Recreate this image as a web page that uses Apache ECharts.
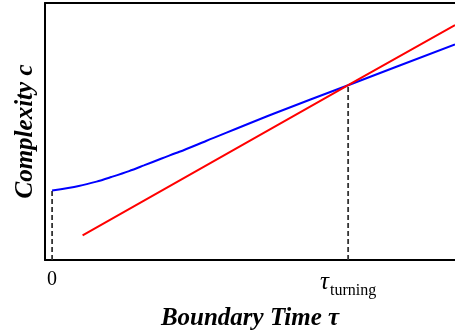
<!DOCTYPE html>
<html>
<head>
<meta charset="utf-8">
<script src="https://cdn.jsdelivr.net/npm/echarts@6/dist/echarts.min.js"></script>
<style>
  html, body { margin: 0; padding: 0; background: #fff; }
  #chart { width: 455px; height: 333px; }
</style>
</head>
<body>
<div id="chart"></div>
<script>
// Boundary time τ (τ_turning = 10) against complexity c
const tauTurning = 10;
const tickValues = [0, tauTurning];
const tickLabels = ['0', '{tau|τ}{sub|turning}'];

// blue: curved growth starting from the value at τ = 0
const blueTau = [0, 0.9, 1.5, 2.0, 2.6, 3.1, 3.7, 4.3, 5.2, 7.5, 10, 13.61];
const blueC   = [2.70, 2.88, 3.05, 3.23, 3.46, 3.68, 3.95, 4.21, 4.63, 5.70, 6.80, 8.39];

// red: straight line crossing the blue one at τ_turning
const redTau = [1.03, 10, 13.61];
const redC   = [0.96, 6.80, 9.14];

// heights where the dashed guides stop
const startC = 2.70;
const turnC = 6.80;

const pairs = (xs, ys) => xs.map((x, i) => [x, ys[i]]);

const serif = 'Liberation Serif, Times New Roman, serif';
const xMin = -0.24, xMax = 13.61;

const chart = echarts.init(document.getElementById('chart'), null, { renderer: 'canvas' });
chart.setOption({
  animation: false,
  grid: { left: 45, right: 0, top: 3, bottom: 73, containLabel: false, outerBoundsMode: 'none' },
  xAxis: [
    {
      type: 'value',
      min: xMin,
      max: xMax,
      position: 'bottom',
      axisLine: { show: true, onZero: false, lineStyle: { color: '#000', width: 2 } },
      axisTick: { show: false },
      splitLine: { show: false },
      axisLabel: {
        customValues: tickValues,
        margin: 10,
        color: '#000',
        fontFamily: serif,
        fontSize: 20,
        formatter: v => tickLabels[tickValues.indexOf(v)],
        rich: {
          tau: { fontFamily: serif, fontSize: 25, fontStyle: 'italic', color: '#000', verticalAlign: 'bottom', padding: [0, 1, 0, 0] },
          sub: { fontFamily: serif, fontSize: 16, color: '#000', verticalAlign: 'bottom', padding: [0, 0, -4, 0] }
        }
      },
      name: 'Boundary Time τ',
      nameLocation: 'middle',
      nameGap: 46,
      nameTextStyle: { fontFamily: serif, fontSize: 25, fontWeight: 'bold', fontStyle: 'italic', color: '#000' }
    },
    {
      type: 'value',
      min: xMin,
      max: xMax,
      position: 'top',
      axisLine: { show: true, onZero: false, lineStyle: { color: '#000', width: 2 } },
      axisTick: { show: false },
      axisLabel: { show: false },
      splitLine: { show: false }
    }
  ],
  yAxis: {
    type: 'value',
    min: 0,
    max: 10,
    axisLine: { show: true, onZero: false, lineStyle: { color: '#000', width: 2 } },
    axisTick: { show: false },
    axisLabel: { show: false },
    splitLine: { show: false },
    name: 'Complexity c',
    nameLocation: 'middle',
    nameGap: 7,
    nameRotate: 90,
    nameTextStyle: { fontFamily: serif, fontSize: 25, fontWeight: 'bold', fontStyle: 'italic', color: '#000' }
  },
  series: [
    {
      type: 'line',
      data: [[0, 0], [0, startC]],
      symbol: 'none',
      lineStyle: { color: '#333', width: 1.8, type: [5, 3] },
      z: 1
    },
    {
      type: 'line',
      data: [[tauTurning, 0], [tauTurning, turnC]],
      symbol: 'none',
      lineStyle: { color: '#333', width: 1.8, type: [5, 3] },
      z: 1
    },
    {
      type: 'line',
      data: pairs(blueTau, blueC),
      symbol: 'none',
      smooth: 0.3,
      lineStyle: { color: '#0000ff', width: 2 },
      z: 3
    },
    {
      type: 'line',
      data: pairs(redTau, redC),
      symbol: 'none',
      lineStyle: { color: '#ff0000', width: 2 },
      z: 4
    }
  ]
});
</script>
</body>
</html>
